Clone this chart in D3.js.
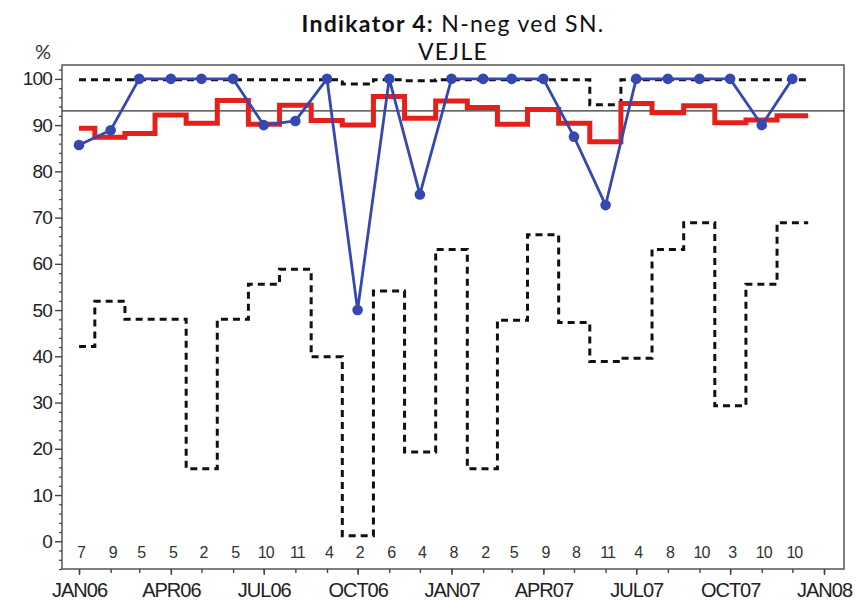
<!DOCTYPE html>
<html>
<head>
<meta charset="utf-8">
<script src="https://cdn.jsdelivr.net/npm/d3@7"></script>
<style>
  html, body { margin: 0; padding: 0; background: #fff; }
  svg { display: block; }
</style>
</head>
<body>
<svg id="chart" width="856" height="606"></svg>
<script>
// ---- data ----
const months = ["2006-01","2006-02","2006-03","2006-04","2006-05","2006-06",
                "2006-07","2006-08","2006-09","2006-10","2006-11","2006-12",
                "2007-01","2007-02","2007-03","2007-04","2007-05","2007-06",
                "2007-07","2007-08","2007-09","2007-10","2007-11","2007-12"];
const percent = [85.7, 88.9, 100, 100, 100, 100, 90, 90.9, 100, 50, 100, 75,
                 100, 100, 100, 100, 87.5, 72.7, 100, 100, 100, 100, 90, 100];
const runningMean = [89.3, 87.4, 88.2, 92.2, 90.4, 95.3, 90.2, 94.3, 91.0, 90.0, 96.2, 91.5,
                     95.2, 93.8, 90.2, 93.4, 90.4, 86.4, 94.7, 92.7, 94.2, 90.5, 91.1, 92.0];
const upperLimit = [99.8, 99.8, 99.8, 99.8, 99.8, 99.8, 99.8, 99.8, 99.8, 98.9, 99.8, 99.6,
                    99.8, 99.8, 99.8, 99.8, 99.8, 94.4, 99.8, 99.8, 99.8, 99.8, 99.8, 99.8];
const lowerLimit = [42.1, 51.9, 48.0, 48.0, 15.7, 48.0, 55.6, 58.8, 39.9, 1.2, 54.1, 19.3,
                    63.1, 15.7, 47.8, 66.3, 47.3, 38.9, 39.6, 63.1, 68.9, 29.3, 55.6, 68.9];
const counts = [7, 9, 5, 5, 2, 5, 10, 11, 4, 2, 6, 4, 8, 2, 5, 9, 8, 11, 4, 8, 10, 3, 10, 10];
const targetValue = 93.1;
const yTickValues = [0, 10, 20, 30, 40, 50, 60, 70, 80, 90, 100];
const xTickMonths = ["2006-01","2006-04","2006-07","2006-10","2007-01","2007-04","2007-07","2007-10","2008-01"];
const xTickLabels = ["JAN06","APR06","JUL06","OCT06","JAN07","APR07","JUL07","OCT07","JAN08"];
const titleBold = "Indikator 4:";
const titleRest = " N-neg ved SN.";
const subtitle = "VEJLE";

// ---- layout ----
const frame = {left: 62, right: 844, top: 65, bottom: 569};
const parse = s => { const [y, m] = s.split("-").map(Number); return new Date(Date.UTC(y, m - 1, 1)); };
const dates = months.map(parse);

const x = d3.scaleUtc()
  .domain([parse("2006-01"), parse("2008-01")])
  .range([79, 824]);
const y = d3.scaleLinear().domain([-6, 103]).range([frame.bottom, frame.top]);

const svg = d3.select("#chart");
const axisColor = "#444";
const labelFont = "'Liberation Sans', Arial, sans-serif";
const titleFont = "Lato, 'Open Sans', sans-serif";

// frame
svg.append("rect")
  .attr("x", frame.left).attr("y", frame.top)
  .attr("width", frame.right - frame.left).attr("height", frame.bottom - frame.top)
  .attr("fill", "none").attr("stroke", "#555").attr("stroke-width", 1.5);

// titles
const cx = (frame.left + frame.right) / 2;
const t = svg.append("text")
  .attr("x", cx).attr("y", 32).attr("text-anchor", "middle")
  .attr("font-family", titleFont)
  .attr("font-size", 23).attr("fill", "#111").attr("letter-spacing", 1.3);
t.append("tspan").attr("font-weight", "bold").text(titleBold);
t.append("tspan").text(titleRest);
svg.append("text")
  .attr("x", cx).attr("y", 60).attr("text-anchor", "middle")
  .attr("font-family", titleFont)
  .attr("font-size", 23).attr("fill", "#111").attr("letter-spacing", 1.3)
  .text(subtitle);

svg.append("text")
  .attr("x", 43).attr("y", 59).attr("text-anchor", "middle")
  .attr("font-family", titleFont)
  .attr("font-size", 20).attr("fill", "#333")
  .text("%");

// y axis: minor ticks
const yMinor = d3.range(-6, 103, 2).filter(v => v % 10 !== 0);
const yMinorAxis = d3.axisLeft(y).tickValues(yMinor).tickSize(3).tickFormat("");
svg.append("g").attr("transform", `translate(${frame.left},0)`).call(yMinorAxis)
  .call(g => g.select(".domain").remove())
  .call(g => g.selectAll("line").attr("stroke", axisColor).attr("stroke-width", 1.2));
const yAxis = d3.axisLeft(y).tickValues(yTickValues).tickSize(7).tickPadding(3);
svg.append("g").attr("transform", `translate(${frame.left},0)`).call(yAxis)
  .call(g => g.select(".domain").remove())
  .call(g => g.selectAll("line").attr("stroke", axisColor).attr("stroke-width", 1.4))
  .call(g => g.selectAll("text")
    .attr("font-family", labelFont).attr("font-size", 19)
    .attr("letter-spacing", -0.8).attr("fill", "#222"));

// x axis: minor monthly ticks
const monthTicks = d3.utcMonth.range(parse("2006-01"), d3.utcMonth.offset(parse("2008-01"), 1));
const xMinorAxis = d3.axisBottom(x).tickValues(monthTicks).tickSize(4).tickFormat("");
svg.append("g").attr("transform", `translate(0,${frame.bottom})`).call(xMinorAxis)
  .call(g => g.select(".domain").remove())
  .call(g => g.selectAll("line").attr("stroke", axisColor).attr("stroke-width", 1.4));
const xMajor = xTickMonths.map(parse);
const xAxis = d3.axisBottom(x).tickValues(xMajor).tickSize(6)
  .tickFormat((d, i) => xTickLabels[i]);
svg.append("g").attr("transform", `translate(0,${frame.bottom})`).call(xAxis)
  .call(g => g.select(".domain").remove())
  .call(g => g.selectAll("line").attr("stroke", axisColor).attr("stroke-width", 1.4))
  .call(g => g.selectAll("text")
    .attr("y", 14).attr("dy", "0.71em")
    .attr("font-family", labelFont).attr("font-size", 20)
    .attr("letter-spacing", -1).attr("fill", "#222"));

// target line
svg.append("line")
  .attr("x1", frame.left).attr("x2", frame.right)
  .attr("y1", y(targetValue)).attr("y2", y(targetValue))
  .attr("stroke", "#333").attr("stroke-width", 1.2);

// step-line helper: value i spans from mid(prev) to mid(next); last ends half a month later
function stepData(values) {
  const pts = values.map((v, i) => ({px: x(dates[i]), v}));
  const last = dates[dates.length - 1];
  const endX = (x(last) + x(d3.utcMonth.offset(last, 1))) / 2;
  pts.push({px: endX, v: values[values.length - 1]});
  return pts;
}
const stepLine = d3.line().x(d => d.px).y(d => y(d.v)).curve(d3.curveStep);

// control limits (dashed)
[upperLimit, lowerLimit].forEach(arr => {
  svg.append("path")
    .attr("d", stepLine(stepData(arr)))
    .attr("fill", "none").attr("stroke", "#111")
    .attr("stroke-width", 3).attr("stroke-dasharray", "7,5");
});

// running mean (red step)
svg.append("path")
  .attr("d", stepLine(stepData(runningMean)))
  .attr("fill", "none").attr("stroke", "#e5201a")
  .attr("stroke-width", 5).attr("stroke-linejoin", "miter");

// monthly percentage (blue)
const blueLine = d3.line().x((d, i) => x(dates[i])).y(d => y(d));
svg.append("path")
  .attr("d", blueLine(percent))
  .attr("fill", "none").attr("stroke", "#3547b0").attr("stroke-width", 2.8);
svg.append("g").selectAll("circle").data(percent).join("circle")
  .attr("cx", (d, i) => x(dates[i])).attr("cy", d => y(d))
  .attr("r", 5.3).attr("fill", "#3547b0");

// counts row
svg.append("g").selectAll("text").data(counts).join("text")
  .attr("x", (d, i) => x(dates[i]) + 2).attr("y", 558)
  .attr("text-anchor", "middle")
  .attr("font-family", labelFont).attr("font-size", 16)
  .attr("letter-spacing", -1).attr("fill", "#333")
  .text(d => d);
</script>
</body>
</html>
